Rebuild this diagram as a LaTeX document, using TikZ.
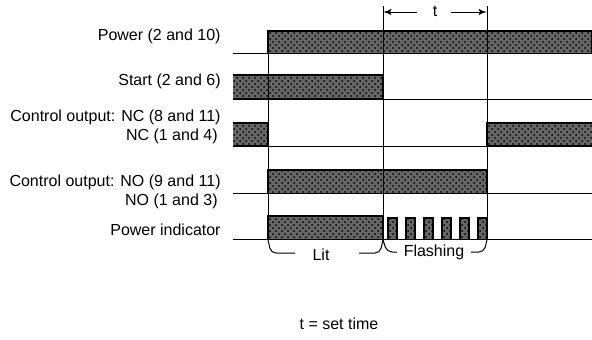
\documentclass[tikz,border=0pt]{standalone}
\usepackage{fontspec}
\setmainfont{Liberation Sans}
\usetikzlibrary{arrows,patterns}

\begin{document}
\begin{tikzpicture}[x=0.5pt,y=-0.5pt,>=latex',
	every node/.style={font=\fontsize{8}{9.6}\selectfont,inner sep=0pt},
	lbl/.style={anchor=east},
	bar/.style={draw=black,line width=0.6pt,fill=black!60,postaction={pattern=crosshatch dots}},
	base/.style={line width=0.5pt},
	brace/.style={line width=0.5pt,rounded corners=2.5}]
	\useasboundingbox (0,0) rectangle (592,339);
	% time marks
	\coordinate (on) at (268,0);
	\coordinate (st) at (383,0);
	\coordinate (up) at (487,0);
	% signal labels
	\node [lbl] (power) at (221,36) {Power (2 and 10)};
	\node [lbl] (start) at (221,81) {Start (2 and 6)};
	\node [lbl] (nca) at (221,117) {Control output: NC (8 and 11)};
	\node [lbl] (ncb) at (218,136) {NC (1 and 4)};
	\node [lbl] (noa) at (221,182) {Control output: NO (9 and 11)};
	\node [lbl] (nob) at (218,201) {NO (1 and 3)};
	\node [lbl] (ind) at (221,230) {Power indicator};
	% bars
	\draw [bar] (268,53) |- (592,31) -- (592,53);
	\draw [bar] (233,75) -| (383,99) -- (233,99);
	\draw [bar] (233,123) -| (268,146) -- (233,146);
	\draw [bar] (592,123) -| (487,146) -- (592,146);
	\draw [bar] (268,193) |- (487,170) -- (487,193);
	\draw [bar] (268,239) |- (383,216) -- (383,239);
	\foreach \x in {388,406,424,442,460,478}
		\draw [bar] (\x,239) |- (\x+9,218) -- (\x+9,239);
	% base lines
	\foreach \y in {53,99,146,193,239}
		\draw [base] (233,\y) -- (592,\y);
	\draw [base] (on |- 0,31) -- (on |- 0,239);
	\draw [base] (st |- 0,6) -- (st |- 0,239);
	\draw [base] (up |- 0,6) -- (up |- 0,239);
	% set time
	\node (t) at (435,11) {t};
	\coordinate (ta) at (383,12);
	\coordinate (tb) at (487,12);
	\draw [->,base] (t) ++(-18,1) -- (ta);
	\draw [->,base] (t) ++(16,1) -- (tb);
	% braces
	\node (lit) at (321,255) {Lit};
	\node (flash) at (434,252) {Flashing};
	\draw [brace] (268,240) -- (271,253) -- (295,253);
	\draw [brace] (359,253) -- (380,253) -- (383,240);
	\draw [brace] (383,240) -- (387,252) -- (397,252);
	\draw [brace] (471,252) -- (484,252) -- (487,240);
	\node (legend) at (339,324) {t = set time};
\end{tikzpicture}
\end{document}
